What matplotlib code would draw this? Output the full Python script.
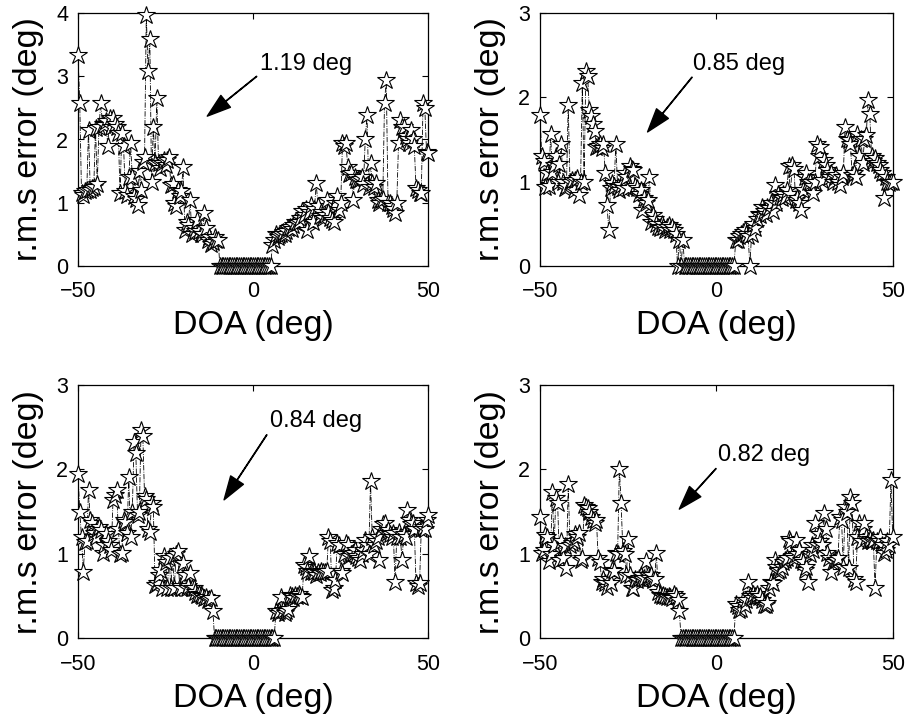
import numpy as np
import matplotlib
matplotlib.use("Agg")
import matplotlib.pyplot as plt

plt.rcParams['font.family'] = ['Liberation Sans', 'DejaVu Sans']

# DOA grid (deg)
doa = np.arange(-50, 50.01, 0.5)

rmse_a = [
    3.34, 2.58, 1.15, 1.12, 1.18, 1.2, 2.15, 1.2, 1.23, 1.25,
    2.18, 1.3, 2.2, 2.58, 2.25, 2.23, 2.3, 1.89, 2.34, 2.2,
    2.34, 2.25, 2.2, 2.1, 1.15, 2.1, 1.9, 1.18, 1.12, 1.4,
    1.94, 1.41, 1.1, 1.05, 0.96, 1.5, 1.2, 1.65, 1.73, 3.98,
    3.08, 3.6, 1.33, 2.2, 1.62, 2.66, 1.62, 1.55, 1.62, 1.68,
    1.6, 1.68, 1.73, 1.28, 1.3, 1.0, 0.94, 1.2, 1.1, 1.18,
    1.57, 0.57, 0.7, 0.65, 1.04, 0.51, 0.6, 0.55, 0.72, 0.55,
    0.51, 0.5, 0.83, 0.6, 0.41, 0.45, 0.35, 0.38, 0.45, 0.4,
    0.41, 0, 0, 0, 0, 0, 0, 0, 0, 0,
    0, 0, 0, 0, 0, 0, 0, 0, 0, 0,
    0, 0, 0, 0, 0, 0, 0, 0, 0, 0,
    0, 0.33, 0.4, 0.51, 0.45, 0.48, 0.5, 0.54, 0.5, 0.55,
    0.6, 0.62, 0.58, 0.65, 0.7, 0.68, 0.7, 0.75, 0.86, 0.8,
    0.9, 0.57, 0.85, 0.96, 0.7, 0.9, 1.31, 0.95, 0.78, 0.85,
    0.75, 0.8, 1.04, 0.85, 0.75, 0.72, 0.7, 1.0, 1.1, 0.88,
    1.0, 1.94, 1.9, 1.94, 1.57, 1.45, 1.47, 1.04, 1.4, 1.36,
    1.36, 1.38, 1.41, 1.3, 2.0, 2.39, 1.25, 1.62, 1.31, 1.25,
    1.31, 1.04, 1.0, 1.04, 1.05, 2.58, 2.95, 1.0, 0.99, 0.95,
    0.9, 0.83, 1.0, 1.94, 2.31, 2.2, 2.2, 2.05, 2.0, 1.95,
    2.15, 2.0, 1.9, 1.23, 1.2, 1.15, 1.15, 2.58, 2.5, 1.8,
    1.78,
]

rmse_b = [
    1.79, 1.3, 1.25, 0.94, 1.1, 0.95, 1.57, 1.11, 1.2, 1.3,
    1.0, 1.21, 1.45, 1.0, 0.92, 0.95, 1.91, 1.0, 1.02, 0.9,
    1.02, 1.04, 0.84, 1.0, 2.17, 1.0, 2.31, 2.25, 1.85, 1.78,
    1.69, 1.6, 1.41, 1.42, 1.45, 1.4, 1.45, 1.1, 0.72, 0.42,
    0.92, 0.98, 0.95, 1.45, 0.94, 0.9, 0.96, 0.92, 1.1, 1.05,
    0.92, 1.18, 1.15, 1.14, 0.95, 0.92, 0.85, 0.9, 0.66, 0.8,
    0.75, 0.78, 1.06, 0.52, 0.6, 0.55, 0.5, 0.46, 0.45, 0.5,
    0.46, 0.42, 0.46, 0.48, 0.42, 0.46, 0.42, 0.38, 0, 0.31,
    0, 0.31, 0, 0, 0, 0, 0, 0, 0, 0,
    0, 0, 0, 0, 0, 0, 0, 0, 0, 0,
    0, 0, 0, 0, 0, 0, 0, 0, 0, 0,
    0, 0.3, 0.31, 0.35, 0.38, 0.4, 0.42, 0.38, 0.35, 0,
    0.38, 0.5, 0.45, 0.55, 0.62, 0.6, 0.7, 0.65, 0.62, 0.7,
    0.68, 0.74, 0.65, 0.96, 0.75, 0.85, 0.82, 0.8, 0.85, 0.82,
    0.9, 1.18, 0.85, 1.2, 1.15, 0.78, 0.8, 0.75, 0.66, 0.9,
    1.05, 1.1, 1.0, 1.0, 0.95, 0.86, 1.0, 1.45, 1.3, 1.41,
    1.02, 1.26, 1.2, 1.14, 1.05, 1.1, 1.0, 1.05, 1.08, 1.0,
    0.96, 1.05, 1.1, 1.65, 1.5, 1.49, 1.45, 1.08, 1.1, 1.05,
    1.57, 1.3, 1.51, 1.22, 1.5, 1.55, 1.97, 1.8, 1.3, 1.25,
    1.28, 1.22, 1.2, 1.14, 1.1, 0.8, 1.05, 1.0, 0.98, 1.0,
    1.0,
]

rmse_c = [
    1.95, 1.5, 1.2, 0.79, 1.14, 1.15, 1.76, 1.4, 1.36, 1.25,
    1.2, 1.3, 1.32, 1.28, 1.01, 1.1, 1.24, 1.15, 1.1, 1.05,
    1.64, 1.7, 1.76, 1.3, 1.0, 1.01, 1.4, 1.38, 1.25, 1.91,
    1.2, 1.5, 2.33, 2.2, 1.46, 1.5, 2.47, 2.4, 1.68, 1.65,
    1.3, 1.26, 1.6, 1.55, 0.63, 0.65, 0.75, 0.81, 0.6, 0.97,
    0.9, 0.59, 0.95, 0.6, 0.97, 0.6, 1.0, 1.03, 0.62, 0.59,
    0.89, 0.75, 0.6, 0.62, 0.77, 0.6, 0.59, 0.55, 0.51, 0.52,
    0.51, 0.5, 0.48, 0.49, 0.45, 0.47, 0.48, 0.32, 0, 0,
    0, 0, 0, 0, 0, 0, 0, 0, 0, 0,
    0, 0, 0, 0, 0, 0, 0, 0, 0, 0,
    0, 0, 0, 0, 0, 0, 0, 0, 0, 0,
    0, 0, 0, 0.32, 0.3, 0.32, 0.49, 0.33, 0.3, 0.32,
    0.35, 0.51, 0.5, 0.48, 0.51, 0.5, 0.52, 0.5, 0.49, 0.87,
    0.85, 0.8, 0.97, 0.78, 0.8, 0.79, 0.75, 0.78, 0.77, 0.8,
    0.78, 0.79, 0.8, 1.2, 1.15, 0.57, 0.6, 0.69, 1.13, 1.1,
    0.8, 0.77, 1.0, 1.13, 1.1, 0.97, 1.0, 1.01, 1.05, 0.98,
    0.95, 0.93, 1.0, 1.05, 1.16, 1.1, 1.0, 1.86, 1.2, 1.1,
    1.15, 1.2, 0.93, 1.3, 1.35, 1.36, 1.25, 1.28, 1.24, 1.2,
    1.25, 0.67, 1.2, 1.26, 1.2, 0.93, 1.24, 1.2, 1.52, 1.4,
    1.35, 1.36, 1.3, 0.65, 0.62, 0.65, 1.3, 1.32, 1.3, 1.4,
    1.46,
]

rmse_d = [
    1.44, 1.01, 1.05, 1.22, 1.2, 0.91, 1.0, 1.73, 1.1, 1.66,
    1.6, 0.93, 1.15, 0.95, 1.09, 0.83, 1.83, 1.1, 1.13, 1.15,
    1.24, 1.2, 1.25, 0.93, 0.95, 1.58, 1.55, 1.54, 1.5, 1.44,
    1.4, 1.36, 1.4, 0.95, 0.9, 0.67, 0.7, 0.65, 0.61, 0.7,
    0.65, 0.81, 0.8, 1.01, 1.0, 2.01, 1.6, 1.03, 1.0, 0.75,
    1.18, 0.75, 0.6, 0.59, 0.7, 0.69, 0.72, 0.75, 0.7, 0.72,
    0.91, 0.75, 0.72, 0.75, 0.69, 0.7, 1.01, 0.55, 0.51, 0.5,
    0.51, 0.5, 0.49, 0.5, 0.49, 0.48, 0.53, 0.5, 0.45, 0.32,
    0, 0, 0, 0, 0, 0, 0, 0, 0, 0,
    0, 0, 0, 0, 0, 0, 0, 0, 0, 0,
    0, 0, 0, 0, 0, 0, 0, 0, 0, 0,
    0, 0.41, 0.38, 0.34, 0.35, 0.45, 0.4, 0.45, 0.67, 0.5,
    0.48, 0.53, 0.5, 0.52, 0.49, 0.5, 0.45, 0.39, 0.4, 0.42,
    0.6, 0.67, 0.65, 0.93, 0.85, 0.8, 0.81, 0.85, 0.9, 0.93,
    0.95, 1.18, 1.15, 0.98, 0.95, 1.16, 1.0, 1.05, 0.93, 0.9,
    0.81, 0.85, 0.67, 1.0, 1.1, 1.05, 1.36, 1.1, 1.24, 1.15,
    1.1, 1.48, 1.3, 1.01, 0.95, 0.79, 0.9, 0.93, 0.93, 0.95,
    1.44, 1.4, 0.85, 1.56, 1.5, 0.83, 1.67, 1.6, 0.7, 0.67,
    1.2, 1.36, 1.15, 1.3, 1.36, 1.2, 1.15, 1.18, 1.15, 1.16,
    0.59, 1.15, 1.15, 1.2, 1.1, 1.01, 1.05, 1.15, 1.1, 1.87,
    1.2,
]

series = [rmse_a, rmse_b, rmse_c, rmse_d]
ymax = [4, 3, 3, 3]
yticks = [[0, 1, 2, 3, 4], [0, 1, 2, 3], [0, 1, 2, 3], [0, 1, 2, 3]]
xticks = [-50, 0, 50]
notes = ["1.19 deg", "0.85 deg", "0.84 deg", "0.82 deg"]
# (text x, text y, arrow tail x, tail y, head x, head y) in data units
note_pos = [
    (2.0, 3.2, 1.0, 3.0, -13.1, 2.37),
    (-6.7, 2.4, -6.9, 2.24, -19.5, 1.59),
    (4.8, 2.57, 3.9, 2.41, -8.3, 1.64),
    (0.6, 2.17, -0.1, 2.01, -10.5, 1.53),
]

W, H = 909, 718
fig = plt.figure(figsize=(W / 100, H / 100), dpi=100)
boxes = [
    (78, 13.3, 428.3, 265.7),
    (540, 13.3, 892.7, 265.7),
    (78, 385, 428.3, 638.3),
    (540, 385, 892.7, 638.3),
]

for i, (l, t, r, b) in enumerate(boxes):
    ax = fig.add_axes([l / W, 1 - b / H, (r - l) / W, (b - t) / H])
    ax.plot(doa, series[i], linestyle='-.', color='black', linewidth=0.6,
            marker='*', markersize=13.5, markerfacecolor='white',
            markeredgecolor='black', markeredgewidth=0.8, clip_on=False,
            zorder=3)
    ax.set_xlim(-50, 50)
    ax.set_ylim(0, ymax[i])
    ax.set_xticks(xticks)
    ax.set_yticks(yticks[i])
    ax.tick_params(direction='in', top=True, right=True, length=4,
                   width=0.8, labelsize=15.5)
    ax.tick_params(axis='x', pad=11)
    ax.tick_params(axis='y', pad=7)
    for s in ax.spines.values():
        s.set_linewidth(0.9)
    ax.set_xlabel('DOA (deg)', fontsize=24.5, labelpad=6)
    ax.set_ylabel('r.m.s error (deg)', fontsize=24.5, labelpad=9)
    tx, ty, ax0, ay0, hx, hy = note_pos[i]
    ax.text(tx, ty, notes[i], fontsize=17, ha='left', va='center')
    ax.annotate('', xy=(hx, hy), xytext=(ax0, ay0),
                arrowprops=dict(facecolor='black', edgecolor='black',
                                width=0.3, headwidth=11, headlength=17,
                                shrink=0))

fig.savefig('out.png', dpi=100)
